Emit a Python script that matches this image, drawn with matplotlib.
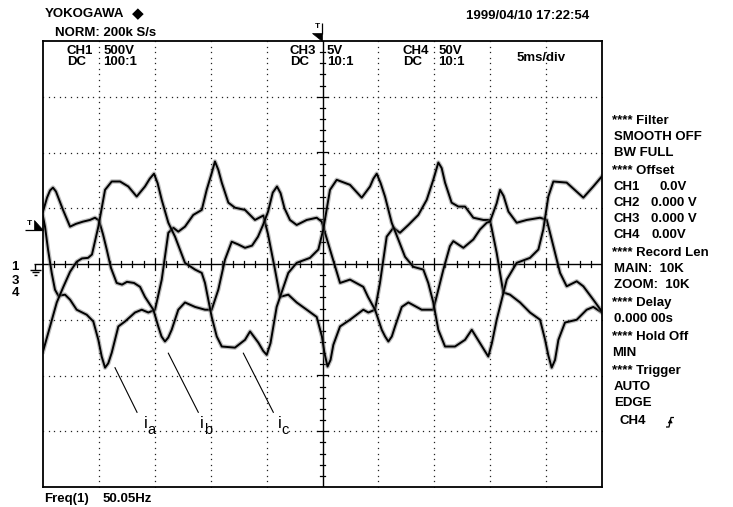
import matplotlib.pyplot as plt
from matplotlib.lines import Line2D
from matplotlib.patches import Polygon
import matplotlib.patheffects as pe
import numpy as np

plt.rcParams['font.family'] = ['Liberation Sans', 'DejaVu Sans']

W, H = 733, 507

# time in ms (5 ms/div, 10 div), amplitude in screen divisions (8 div)
t_ia = [0.00, 0.18, 0.45, 0.78, 1.07, 1.37, 1.97, 2.42, 3.01, 3.91, 4.50, 4.95,
        5.25, 5.55, 5.84, 6.15, 6.74, 7.34, 8.23, 8.83, 9.42, 10.02, 10.62, 11.21,
        11.66, 12.10, 12.70, 13.44, 14.20, 14.64, 15.09, 15.38, 15.68, 15.99, 16.58,
        17.17, 18.07, 18.96, 19.71, 20.13, 20.75, 21.20, 21.94, 22.69, 23.59, 24.48,
        24.95, 25.18, 25.45, 25.72, 25.97, 26.57, 27.46, 28.65, 29.10, 29.70, 30.14,
        30.74, 31.34, 31.93, 32.68, 33.57, 34.32, 34.91, 35.36, 35.66, 35.96, 36.55,
        37.15, 37.75, 38.49, 39.39, 39.98, 40.58, 41.17, 41.77, 42.67, 43.56, 44.46,
        44.91, 45.20, 45.50, 45.80, 46.10, 46.69, 47.74, 48.63, 49.22, 49.98]
v_ia = [0.85, 0.67, 0.26, -0.16, -0.46, -0.57, -0.55, -0.64, -0.82, -0.91, -1.03,
        -1.36, -1.66, -1.86, -1.78, -1.59, -1.12, -1.03, -0.87, -0.82, -0.87, -0.82,
        -0.28, 0.56, 0.65, 0.58, 0.67, 0.88, 0.97, 1.33, 1.63, 1.84, 1.69, 1.46,
        1.10, 1.01, 0.97, 0.79, 0.87, 0.53, -0.10, -0.59, -0.55, -0.69, -0.82, -0.95,
        -1.30, -1.60, -1.84, -1.72, -1.45, -1.12, -1.00, -0.82, -0.87, -0.82, -0.34,
        0.49, 0.65, 0.56, 0.70, 0.88, 1.15, 1.51, 1.82, 1.72, 1.46, 1.10, 1.03, 1.03,
        0.83, 0.79, 0.79, 0.20, -0.51, -0.55, -0.69, -0.87, -1.00, -1.36, -1.64,
        -1.86, -1.72, -1.36, -1.05, -1.00, -0.82, -0.77, -0.87]

t_ib = [0.00, 0.36, 0.63, 0.89, 1.16, 1.79, 2.42, 2.95, 3.58, 4.20, 4.65, 5.01,
        5.37, 5.70, 6.08, 6.59, 7.07, 7.51, 8.14, 8.68, 9.12, 9.87, 10.31, 10.60,
        10.91, 11.20, 11.51, 12.10, 12.70, 13.60, 14.49, 15.09, 15.68, 16.28, 16.88,
        17.47, 18.07, 18.70, 19.23, 19.68, 20.13, 20.55, 20.93, 21.25, 21.60, 22.09,
        22.69, 23.59, 24.48, 24.93, 25.67, 26.57, 27.46, 28.65, 29.07, 29.70, 30.30,
        30.60, 30.89, 31.20, 31.49, 32.09, 32.68, 33.87, 34.91, 35.36, 35.81, 36.40,
        36.70, 37.60, 38.49, 39.09, 39.69, 39.98, 40.58, 40.88, 41.20, 41.63, 42.37,
        43.27, 44.46, 45.06, 45.65, 46.25, 46.84, 47.74, 48.33, 49.22, 49.98]
v_ib = [0.94, 1.19, 1.32, 1.37, 1.30, 0.97, 0.67, 0.72, 0.76, 0.79, 0.83, 0.78,
        0.53, 0.26, -0.07, -0.34, -0.37, -0.32, -0.34, -0.41, -0.59, -0.82, -1.12,
        -1.30, -1.39, -1.32, -1.18, -0.82, -0.69, -0.77, -0.82, -0.82, -0.46, 0.08,
        0.40, 0.35, 0.29, 0.33, 0.49, 0.70, 0.94, 1.28, 1.39, 1.27, 1.00, 0.79, 0.70,
        0.79, 0.83, 0.76, 0.26, -0.34, -0.28, -0.41, -0.59, -0.82, -1.18, -1.30,
        -1.39, -1.30, -1.12, -0.77, -0.69, -0.82, -0.82, -0.46, -0.10, 0.32, 0.41,
        0.29, 0.44, 0.62, 0.74, 0.76, 1.09, 1.33, 1.22, 0.94, 0.74, 0.79, 0.83, 0.79,
        0.32, -0.16, -0.40, -0.31, -0.40, -0.64, -0.85]

t_ic = [0.00, 0.63, 1.23, 1.82, 2.42, 3.01, 3.49, 4.03, 4.38, 4.95, 5.55, 6.15,
        6.89, 7.63, 8.38, 9.12, 9.55, 9.93, 10.25, 10.62, 11.21, 11.81, 12.70, 13.60,
        14.20, 14.49, 15.09, 15.54, 15.99, 17.17, 18.07, 18.52, 19.26, 19.70, 20.01,
        20.35, 20.90, 21.94, 22.69, 23.88, 24.63, 25.07, 25.67, 26.27, 27.46, 28.51,
        29.25, 29.55, 29.85, 30.20, 30.59, 31.19, 31.78, 32.38, 33.12, 34.02, 34.46,
        34.91, 35.36, 35.96, 36.85, 37.75, 38.35, 39.09, 39.55, 39.83, 40.15, 40.58,
        41.48, 42.37, 43.56, 44.31, 44.75, 45.20, 45.65, 46.84, 48.33, 49.22, 49.98]
v_ic = [-1.57, -1.12, -0.69, -0.41, -0.14, 0.04, 0.10, 0.11, 0.17, 0.67, 1.33,
        1.48, 1.48, 1.39, 1.21, 1.39, 1.53, 1.62, 1.45, 1.15, 0.74, 0.49, 0.02,
        -0.10, -0.16, -0.34, -0.95, -1.30, -1.48, -1.50, -1.36, -1.21, -1.41, -1.56,
        -1.63, -1.42, -0.77, -0.16, 0.02, 0.11, 0.26, 0.62, 1.33, 1.51, 1.42, 1.19,
        1.39, 1.53, 1.62, 1.45, 1.21, 0.74, 0.44, 0.13, -0.05, -0.10, -0.34, -0.69,
        -1.18, -1.48, -1.48, -1.36, -1.18, -1.42, -1.57, -1.66, -1.42, -1.00, -0.28,
        0.02, 0.11, 0.26, 0.62, 1.21, 1.48, 1.46, 1.19, 1.39, 1.57]

# phase labels: (name, subscript, leader start t/v, leader end t/v, label t)
phase_labels = [('i', 'a', (6.44, -1.86), (8.41, -2.66), 9.03),
                ('i', 'b', (11.21, -1.60), (13.89, -2.66), 14.04),
                ('i', 'c', (17.92, -1.60), (20.60, -2.66), 21.02)]

header_left = "YOKOGAWA"
header_mode = "NORM: 200k S/s"
header_date = "1999/04/10 17:22:54"
channel_info = [("CH1", "500V", "DC", "100:1", 66.7, 103.3),
                ("CH3", "5V", "DC", "10:1", 290.0, 326.7),
                ("CH4", "50V", "DC", "10:1", 402.7, 438.3)]
timebase = "5ms/div"
freq_label, freq_value = "Freq(1)", "50.05Hz"

# side panel rows: (text, x, y)
panel_rows = [("**** Filter", 612, 121), ("SMOOTH OFF", 614, 137), ("BW FULL", 614, 153),
              ("**** Offset", 612, 171),
              ("CH1", 614, 187), ("CH2", 614, 203), ("CH3", 614, 219), ("CH4", 614, 235),
              ("**** Record Len", 612, 253), ("MAIN:  10K", 614, 269), ("ZOOM:  10K", 614, 285),
              ("**** Delay", 612, 303), ("0.000 00s", 614, 319),
              ("**** Hold Off", 612, 337), ("MIN", 612, 353),
              ("**** Trigger", 612, 371), ("AUTO", 614, 387), ("EDGE", 614, 403),
              ("CH4", 620, 421)]
offset_values = [("0.0V", 659, 187), ("0.000 V", 651, 203), ("0.000 V", 651, 219), ("0.00V", 651, 235)]


def fxy(x, y):
    return x / W, 1 - y / H


fig = plt.figure(figsize=(W / 100, H / 100), dpi=100)
fig.patch.set_facecolor('white')

x0, x1, y0, y1 = 43, 602, 41, 487
ax = fig.add_axes([x0 / W, 1 - y1 / H, (x1 - x0) / W, (y1 - y0) / H])
ax.set_xlim(0, 50)
ax.set_ylim(-4, 4)
ax.set_xticks([])
ax.set_yticks([])
for s in ax.spines.values():
    s.set_linewidth(1.3)
    s.set_color('black')

# dotted graticule, 10 dots per division
dot_x = np.arange(0, 50.01, 0.5)
for k in [-3, -2, -1, 1, 2, 3]:
    ax.plot(dot_x, np.full_like(dot_x, k), ls='none', marker='s', ms=0.9,
            mec='none', mfc='#222222')
dot_y = np.arange(-4, 4.01, 0.1)
for k in [5, 10, 15, 20, 30, 35, 40, 45]:
    ax.plot(np.full_like(dot_y, k), dot_y, ls='none', marker='s', ms=0.9,
            mec='none', mfc='#222222')

# center cross with fine ticks
ax.axhline(0, color='black', lw=1.0)
ax.axvline(25, color='black', lw=1.0)
for t in np.arange(1, 50, 1.0):
    h = 0.09 if t % 5 == 0 else 0.05
    ax.plot([t, t], [-h, h], color='black', lw=0.9)
for v in np.arange(-3.8, 3.81, 0.2):
    w = 0.45 if abs(v - round(v)) < 1e-6 else 0.25
    ax.plot([25 - w, 25 + w], [v, v], color='black', lw=0.9)

# phase current traces, grey halo stands in for the sampling noise
fuzz = [pe.Stroke(linewidth=3.2, foreground='#707070', alpha=0.45), pe.Normal()]
for t, v in ((t_ia, v_ia), (t_ib, v_ib), (t_ic, v_ic)):
    ax.plot(t, v, color='black', lw=1.4, solid_joinstyle='round', path_effects=fuzz)

for name, sub, p0, p1, tx in phase_labels:
    ax.plot([p0[0], p1[0]], [p0[1], p1[1]], color='black', lw=0.8)
    ax.text(tx, -2.95, name, fontsize=12, ha='left', va='baseline')
    ax.text(tx + 0.33, -3.05, sub, fontsize=10.5, ha='left', va='baseline')

bold = dict(fontsize=9.5, fontweight='bold', va='center', ha='left')

fig.text(*fxy(45, 14), header_left, **bold)
fig.text(*fxy(132, 14), "\u25c6", fontsize=11, va='center', ha='left', family='DejaVu Sans')
fig.text(*fxy(55, 32.5), header_mode, **bold)
fig.text(*fxy(466, 16), header_date, **bold)

for ch, volt, cpl, probe, xl, xv in channel_info:
    fig.text(*fxy(xl, 51), ch, **bold)
    fig.text(*fxy(xv, 51), volt, **bold)
    fig.text(*fxy(xl, 62), cpl, **bold)
    fig.text(*fxy(xv, 62), probe, **bold)
fig.text(*fxy(517, 58), timebase, **bold)

for txt, x, y in panel_rows:
    fig.text(*fxy(x, y), txt, **bold)
for txt, x, y in offset_values:
    fig.text(*fxy(x, y), txt, **bold)

fig.text(*fxy(44, 499), freq_label, **bold)
fig.text(*fxy(103, 499), freq_value, **bold)

# ground reference marks for channels 1, 3, 4
for lbl, y in (("1", 267.5), ("3", 281), ("4", 293)):
    fig.text(*fxy(15, y), lbl, fontsize=9.5, fontweight='bold', va='center', ha='center')


def seg(pts, lw=1.0):
    xs, ys = zip(*[fxy(x, y) for x, y in pts])
    fig.add_artist(Line2D(xs, ys, color='black', lw=lw, solid_capstyle='butt'))


def tri(pts):
    fig.add_artist(Polygon([fxy(x, y) for x, y in pts], closed=True,
                           facecolor='black', edgecolor='black', lw=0.5))


seg([(34, 264.3), (43, 264.3)])
seg([(35, 264.3), (35, 270)])
seg([(29.5, 270), (40.5, 270)])
seg([(31.5, 272.3), (38.5, 272.3)])
seg([(33.5, 274.5), (36.5, 274.5)])

# trigger position (top) and trigger level (left)
fig.text(*fxy(317.5, 26), "T", fontsize=6, fontweight='bold', va='center', ha='center')
seg([(321.7, 22.5), (321.7, 33.5)], lw=0.9)
tri([(312, 33), (322, 33), (322, 41)])

fig.text(*fxy(29.5, 223.5), "T", fontsize=6, fontweight='bold', va='center', ha='center')
seg([(25, 229.5), (43, 229.5)], lw=0.9)
tri([(34, 219.5), (34, 230), (43, 230)])

# rising edge symbol after trigger source
seg([(666, 427), (669, 427), (671, 417.5), (674, 417.5)], lw=0.9)
tri([(668.2, 423), (672.2, 423), (670.4, 419.5)])

fig.savefig('out.png', dpi=100, facecolor='white')
